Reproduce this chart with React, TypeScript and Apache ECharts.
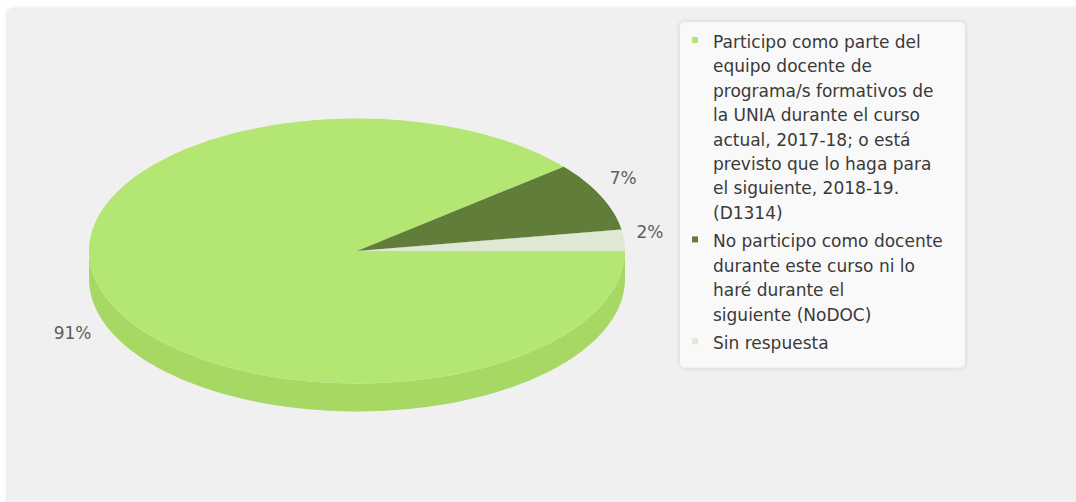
import React, { useEffect, useRef } from "react";
import * as echarts from "echarts";

// ---- data ----
const categories = [
  "Participo como parte del equipo docente de programa/s formativos de la UNIA durante el curso actual, 2017-18; o está previsto que lo haga para el siguiente, 2018-19. (D1314)",
  "No participo como docente durante este curso ni lo haré durante el siguiente (NoDOC)",
  "Sin respuesta",
];
const legendLines = [
  [
    "Participo como parte del",
    "equipo docente de",
    "programa/s formativos de",
    "la UNIA durante el curso",
    "actual, 2017-18; o está",
    "previsto que lo haga para",
    "el siguiente, 2018-19.",
    "(D1314)",
  ],
  ["No participo como docente", "durante este curso ni lo", "haré durante el", "siguiente (NoDOC)"],
  ["Sin respuesta"],
];
const values = [91, 7, 2];

// ---- style ----
const topColors = ["#b4e673", "#607d3a", "#dfe7d5"];
const sideColors = ["#a8d864", "#4d6a2b", "#cdd8c2"];
const wallColors = ["#bce87f", "#54712f", "#d3ddc8"];
const FONT = '17px "DejaVu Sans", Verdana, sans-serif';

const CX = 357;
const CY = 251;
const RX = 268;
const RY = 132.5;
const DEPTH = 28;
const EXPLODE = 0;
const K = 1.3; // perspective stretch of angles near the horizontal
const LABEL_DIST = 26;

function proj(t: number) {
  let d = Math.atan2(K * Math.sin(t), Math.cos(t)) - Math.atan2(Math.sin(t), Math.cos(t));
  if (d > Math.PI) d -= 2 * Math.PI;
  if (d < -Math.PI) d += 2 * Math.PI;
  return t + d;
}

export default function App() {
  const ref = useRef<HTMLDivElement>(null);

  useEffect(() => {
    if (!ref.current) return;
    const chart = echarts.init(ref.current, undefined, { renderer: "svg" });
    const total = values.reduce((a, b) => a + b, 0);

    const renderItem = (params: any, api: any) => {
      const i = params.dataIndex;
      const v = api.value(0) as number;
      let before = 0;
      for (let j = 0; j < i; j++) before += values[j];
      const t0 = (before / total) * Math.PI * 2;
      const t1 = ((before + v) / total) * Math.PI * 2;
      const tm = (t0 + t1) / 2;
      const ps = proj(t0);
      const pe = proj(t1);
      const pm = proj(tm);
      const cx = CX + EXPLODE * Math.cos(pm);
      const cy = CY + EXPLODE * Math.sin(pm);
      const pt = (p: number, h: number) => [cx + RX * Math.cos(p), cy + RY * Math.sin(p) + h];
      const arc = (a: number, b: number, h: number) => {
        const n = Math.max(2, Math.ceil(Math.abs(b - a) / (Math.PI / 120)));
        const out: number[][] = [];
        for (let k = 0; k <= n; k++) out.push(pt(a + ((b - a) * k) / n, h));
        return out;
      };
      const children: any[] = [];
      const wall = (p: number) => [[cx, cy], pt(p, 0), pt(p, DEPTH), [cx, cy + DEPTH]];
      if (Math.cos(ps) < 0) {
        children.push({ type: "polygon", z2: 1, shape: { points: wall(ps) }, style: { fill: wallColors[i] } });
      }
      if (Math.cos(pe) > 0) {
        children.push({ type: "polygon", z2: 1, shape: { points: wall(pe) }, style: { fill: wallColors[i] } });
      }
      const a = Math.max(ps, 0);
      const b = Math.min(pe, Math.PI);
      if (b > a) {
        const pts = arc(a, b, 0).concat(arc(b, a, DEPTH));
        children.push({ type: "polygon", z2: 5, shape: { points: pts }, style: { fill: sideColors[i] } });
      }
      const top = [[cx, cy]].concat(arc(ps, pe, 0));
      children.push({ type: "polygon", z2: 10, shape: { points: top }, style: { fill: topColors[i] } });
      const front = Math.sin(pm) > 0;
      const rim = pt(pm, front ? DEPTH : 0);
      const dist = front ? LABEL_DIST + 10 : LABEL_DIST;
      const lx = rim[0] + dist * Math.cos(pm);
      const ly = rim[1] + dist * Math.sin(pm) - 6;
      children.push({
        type: "text",
        z2: 20,
        x: lx,
        y: ly,
        style: {
          text: Math.round((v / total) * 100) + "%",
          font: FONT,
          fill: "#5e5e5e",
          align: "center",
          verticalAlign: "middle",
        },
      });
      return { type: "group", children };
    };

    // legend drawn as graphic
    const LEG_X = 680;
    const LEG_Y = 22;
    const LINE_H = 24.4;
    const GAP = 4.2;
    const legendEls: any[] = [];
    let y = 29.8;
    legendLines.forEach((lines, i) => {
      legendEls.push({
        type: "rect",
        z: 60,
        silent: true,
        shape: { x: 692, y: y + LINE_H / 2 - 5, width: 6, height: 6 },
        style: { fill: topColors[i] },
      });
      legendEls.push({
        type: "text",
        z: 60,
        silent: true,
        x: 713,
        y: y,
        style: {
          text: lines.join("\n"),
          font: FONT,
          fill: "#3a3a3a",
          lineHeight: LINE_H,
          verticalAlign: "top",
          align: "left",
        },
      });
      y += lines.length * LINE_H + GAP;
    });
    const legendBottom = y + 8;

    chart.setOption({
      animation: false,
      backgroundColor: "#ffffff",
      graphic: [
        {
          type: "rect",
          z: -10,
          shape: { x: 8, y: 9, width: 1100, height: 540, r: 5 },
          style: { fill: "#f0f0f0", shadowBlur: 4, shadowColor: "rgba(0,0,0,0.18)" },
          silent: true,
        },
        {
          type: "rect",
          z: 50,
          shape: { x: LEG_X, y: LEG_Y, width: 285, height: legendBottom - LEG_Y, r: 5 },
          style: { fill: "#f9f9f9", shadowBlur: 5, shadowColor: "rgba(0,0,0,0.15)" },
          silent: true,
        },
        ...legendEls,
      ],
      series: [
        {
          type: "custom",
          name: "Participación",
          coordinateSystem: "none",
          silent: true,
          renderItem,
          data: values.map((v, i) => ({ name: categories[i], value: [v, i] })),
        },
      ],
    });
    return () => chart.dispose();
  }, []);

  return <div ref={ref} style={{ position: "fixed", left: 0, top: 0, width: 1076, height: 502 }} />;
}
